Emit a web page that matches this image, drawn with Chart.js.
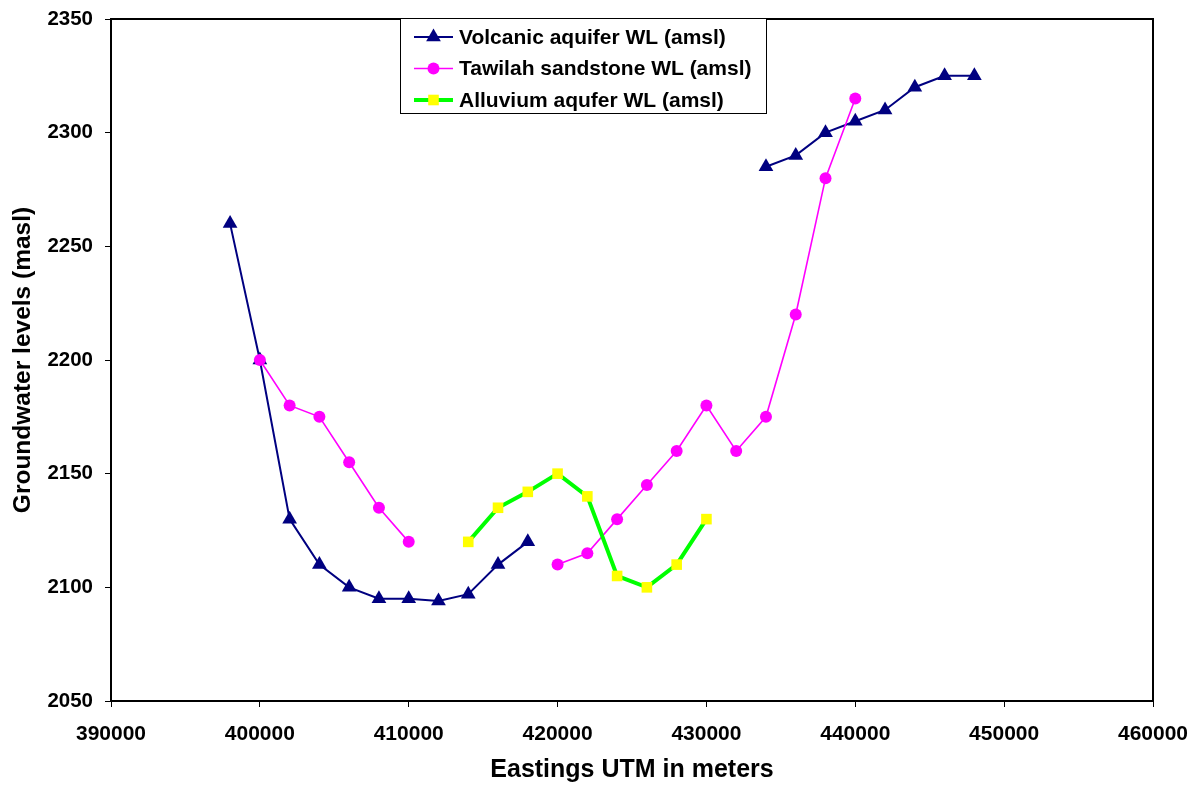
<!DOCTYPE html>
<html>
<head>
<meta charset="utf-8">
<script src="https://cdn.jsdelivr.net/npm/chart.js@4.4.1/dist/chart.umd.min.js"></script>
<style>
    html, body { margin: 0; padding: 0; background: #fff; }
    #wrap { width: 1189px; height: 785px; position: relative; }
</style>
</head>
<body>
<div id="wrap"><canvas id="wl-chart"></canvas></div>
<script>
// Eastings (UTM, m) shared by all three series; null = no reading / line break
const eastings = [398000, 400000, 402000, 404000, 406000, 408000, 410000, 412000, 414000,
    416000, 418000, 420000, 422000, 424000, 426000, 428000, 430000, 432000, 434000,
    436000, 438000, 440000, 442000, 444000, 446000, 448000];

const volcanicWL = [2260, 2200, 2130, 2110, 2100, 2095, 2095, 2094, 2097, 2110, 2120,
    null, null, null, null, null, null, null,
    2285, 2290, 2300, 2305, 2310, 2320, 2325, 2325];

const tawilahWL = [null, 2200, 2180, 2175, 2155, 2135, 2120,
    null, null, null, null,
    2110, 2115, 2130, 2145, 2160, 2180, 2160, 2175, 2220, 2280, 2315,
    null, null, null, null];

const alluviumWL = [null, null, null, null, null, null, null, null,
    2120, 2135, 2142, 2150, 2140, 2105, 2100, 2110, 2130,
    null, null, null, null, null, null, null, null, null];

const seriesNames = ['Volcanic aquifer WL (amsl)', 'Tawilah sandstone WL (amsl)', 'Alluvium aqufer WL (amsl)'];

const xTicks = { min: 390000, max: 460000, step: 10000 };
const yTicks = { min: 2050, max: 2350, step: 50 };

const FONT = "'Liberation Sans', Arial, sans-serif";

function toPoints(values) {
    return eastings.map((e, i) => ({ x: e, y: values[i] }));
}

// frame round the whole plot area (top and right sides are not drawn by the axes)
const frame = {
    id: 'frame',
    afterDatasetsDraw(chart) {
        const { ctx, chartArea: a } = chart;
        ctx.save();
        ctx.strokeStyle = '#000';
        ctx.lineWidth = 2;
        ctx.strokeRect(a.left, a.top, a.right - a.left, a.bottom - a.top);
        ctx.restore();
    }
};

// boxed legend sitting inside the plot, like the spreadsheet one
const boxLegend = {
    id: 'boxLegend',
    afterDraw(chart) {
        const ctx = chart.ctx;
        const box = { x: 400.5, y: 18.5, w: 366, h: 95 };
        ctx.save();
        ctx.fillStyle = '#fff';
        ctx.fillRect(box.x, box.y, box.w, box.h);
        ctx.strokeStyle = '#000';
        ctx.lineWidth = 1;
        ctx.strokeRect(box.x, box.y, box.w, box.h);

        chart.data.datasets.forEach((ds, i) => {
            const cy = 37 + i * 31.5;
            ctx.strokeStyle = ds.borderColor;
            ctx.lineWidth = ds.borderWidth;
            ctx.beginPath();
            ctx.moveTo(414, cy);
            ctx.lineTo(453, cy);
            ctx.stroke();
            ctx.fillStyle = ds.pointBackgroundColor;
            ctx.strokeStyle = ds.pointBackgroundColor;
            Chart.helpers.drawPoint(ctx, {
                pointStyle: ds.pointStyle, radius: ds.pointRadius, rotation: 0, borderWidth: 0
            }, 433.5, cy);

            ctx.fillStyle = '#000';
            ctx.font = 'bold 21px ' + FONT;
            ctx.textBaseline = 'middle';
            ctx.textAlign = 'left';
            ctx.fillText(ds.label, 459, cy + 1);
        });
        ctx.restore();
    }
};

const ctx = document.getElementById('wl-chart').getContext('2d');
const chart = new Chart(ctx, {
    type: 'line',
    data: {
        datasets: [
            {
                label: seriesNames[0],
                data: toPoints(volcanicWL),
                borderColor: '#000080',
                borderWidth: 2,
                pointStyle: 'triangle',
                pointRadius: 8.5,
                pointBackgroundColor: '#000080',
                pointBorderWidth: 0,
                tension: 0,
                spanGaps: false,
                order: 3
            },
            {
                label: seriesNames[1],
                data: toPoints(tawilahWL),
                borderColor: '#ff00ff',
                borderWidth: 1.6,
                pointStyle: 'circle',
                pointRadius: 6,
                pointBackgroundColor: '#ff00ff',
                pointBorderWidth: 0,
                tension: 0,
                spanGaps: false,
                order: 2
            },
            {
                label: seriesNames[2],
                data: toPoints(alluviumWL),
                borderColor: '#00ff00',
                borderWidth: 4,
                pointStyle: 'rect',
                pointRadius: 7.5,
                pointBackgroundColor: '#ffff00',
                pointBorderWidth: 0,
                tension: 0,
                spanGaps: false,
                order: 1
            }
        ]
    },
    options: {
        responsive: true,
        maintainAspectRatio: false,
        animation: false,
        clip: false,
        layout: { padding: { top: 19, right: 36, left: 0, bottom: 0 } },
        scales: {
            x: {
                type: 'linear',
                min: xTicks.min,
                max: xTicks.max,
                afterFit: s => { s.height = 84; s.paddingLeft = 0; s.paddingRight = 0; },
                afterBuildTicks: s => {
                    s.ticks = [];
                    for (let v = xTicks.min; v <= xTicks.max; v += xTicks.step) s.ticks.push({ value: v });
                },
                grid: { drawOnChartArea: false, drawTicks: true, tickLength: 6, color: '#000' },
                border: { color: '#000', width: 2 },
                ticks: {
                    color: '#000',
                    padding: 15,
                    maxRotation: 0,
                    autoSkip: false,
                    font: { family: FONT, size: 21, weight: 'bold' },
                    callback: v => String(v)
                },
                title: {
                    display: true,
                    text: 'Eastings UTM in meters',
                    color: '#000',
                    padding: { top: 0, bottom: 0 },
                    font: { family: FONT, size: 25, weight: 'bold' }
                }
            },
            y: {
                min: yTicks.min,
                max: yTicks.max,
                afterFit: s => { s.width = 111; s.paddingTop = 0; s.paddingBottom = 0; },
                afterBuildTicks: s => {
                    s.ticks = [];
                    for (let v = yTicks.min; v <= yTicks.max; v += yTicks.step) s.ticks.push({ value: v });
                },
                grid: { drawOnChartArea: false, drawTicks: true, tickLength: 6, color: '#000' },
                border: { color: '#000', width: 2 },
                ticks: {
                    color: '#000',
                    padding: 12,
                    autoSkip: false,
                    font: { family: FONT, size: 20.5, weight: 'bold' },
                    callback: v => String(v)
                },
                title: {
                    display: true,
                    text: 'Groundwater levels (masl)',
                    color: '#000',
                    padding: { top: 9, bottom: 0 },
                    font: { family: FONT, size: 24.5, weight: 'bold' }
                }
            }
        },
        plugins: {
            legend: { display: false },
            tooltip: { enabled: false }
        }
    },
    plugins: [frame, boxLegend]
});
</script>
</body>
</html>
